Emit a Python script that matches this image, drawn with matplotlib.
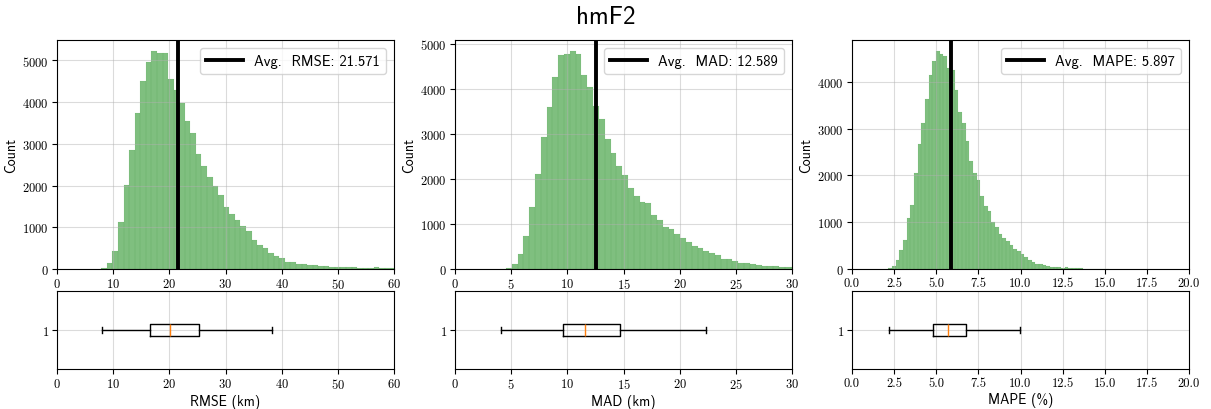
import matplotlib
matplotlib.use("Agg")
import matplotlib.pyplot as plt
import numpy as np

# ---------------- data ----------------
rmse_start, rmse_width = 7.9, 0.99
rmse_counts = [25, 140, 430, 1135, 2015, 2855, 3745, 4505, 4955, 5230, 5185, 5185,
               4560, 4295, 3985, 3550, 3260, 2755, 2480, 2210, 1990, 1780, 1495, 1330,
               1175, 1030, 915, 695, 570, 505, 390, 305, 275, 175, 170, 120, 120, 105,
               90, 70, 70, 55, 50, 45, 45, 40, 30, 25, 25, 45, 25, 20, 25]

mad_start, mad_width = 4.023, 0.517
mad_counts = [10, 15, 110, 333, 733, 1378, 2111, 2926, 3600, 4259, 4755, 4778, 4837,
              4778, 4311, 4044, 3622, 3318, 2889, 2570, 2289, 2089, 1800, 1630, 1489,
              1467, 1200, 1089, 933, 889, 778, 689, 600, 511, 467, 400, 356, 311, 222,
              222, 178, 133, 133, 111, 89, 67, 67, 67, 55, 44, 44]

mape_start, mape_width = 2.16, 0.218
mape_counts = [15, 64, 191, 400, 615, 1095, 1360, 2050, 2680, 3120, 3640, 4150, 4440,
               4660, 4590, 4550, 4300, 4250, 3820, 3360, 3120, 2730, 2310, 2045, 1908,
               1569, 1336, 1230, 996, 890, 742, 657, 594, 509, 420, 375, 315, 250, 200,
               155, 106, 100, 80, 60, 42, 42, 35, 28, 48, 21, 14, 14, 12, 8, 6, 5, 4,
               3, 3, 2]

averages = [21.571, 12.589, 5.897]
metric_names = ["RMSE", "MAD", "MAPE"]
xlabels = ["RMSE (km)", "MAD (km)", "MAPE (%)"]
xlims = [(0, 60), (0, 30), (0, 20)]
xtick_steps = [10, 5, 2.5]

# box stats: whislo, q1, med, q3, whishi
box_stats = [
    (8.1, 16.6, 20.2, 25.2, 38.2),
    (4.1, 9.6, 11.6, 14.65, 22.35),
    (2.2, 4.82, 5.69, 6.79, 9.95),
]

hist_data = [
    (rmse_start, rmse_width, rmse_counts),
    (mad_start, mad_width, mad_counts),
    (mape_start, mape_width, mape_counts),
]

# ---------------- style ----------------
plt.rcParams['font.family'] = 'cmr10'
plt.rcParams['axes.formatter.use_mathtext'] = True
plt.rcParams['mathtext.fontset'] = 'cm'
SANS = 'cmss10'

fig = plt.figure(figsize=(12.11, 4.10), dpi=100)

lefts = [57 / 1211, 455 / 1211, 852 / 1211]
w = 337 / 1211
top_bottom = 1 - 270 / 410
top_h = (270 - 41) / 410
box_bottom = 1 - 370 / 410
box_h = (370 - 292) / 410

green_face = (0.0, 0.5, 0.0, 0.5)
green_edge = (0.0, 0.5, 0.0, 0.9)

for i in range(3):
    start, width, counts = hist_data[i]
    counts = np.array(counts, dtype=float)
    edges = start + width * np.arange(len(counts))

    ax = fig.add_axes([lefts[i], top_bottom, w, top_h])
    ax.bar(edges, counts, width=width, align='edge', facecolor=green_face,
           edgecolor=green_edge, linewidth=0.04)
    ax.axvline(averages[i], color='black', lw=2.8,
               label=f"Avg.  {metric_names[i]}: {averages[i]:.3f}")
    ax.set_xlim(*xlims[i])
    ax.set_ylim(0, counts.max() * 1.05)
    ticks = np.arange(xlims[i][0], xlims[i][1] + 1e-9, xtick_steps[i])
    ax.set_xticks(ticks)
    if i == 2:
        ax.set_xticklabels([f"{t:.1f}" for t in ticks])
    ax.grid(True, alpha=0.45)
    ax.set_ylabel("Count", family=SANS, fontsize=10, labelpad=3)
    ax.tick_params(labelsize=9, pad=2.5)
    ax.legend(loc='upper right', prop={'family': SANS, 'size': 10.5},
              handlelength=2.5, borderaxespad=0.55, borderpad=0.4)

    bx = fig.add_axes([lefts[i], box_bottom, w, box_h])
    lo, q1, med, q3, hi = box_stats[i]
    stats = [dict(whislo=lo, q1=q1, med=med, q3=q3, whishi=hi, fliers=[], label="1")]
    bx.bxp(stats, orientation='horizontal', showfliers=False, widths=0.15,
           medianprops=dict(color='C1'))
    bx.set_ylim(0.5, 1.5)
    bx.set_xlim(*xlims[i])
    bx.set_xticks(ticks)
    if i == 2:
        bx.set_xticklabels([f"{t:.1f}" for t in ticks])
    bx.grid(True, alpha=0.45)
    bx.tick_params(labelsize=9, pad=2.5)
    bx.set_xlabel(xlabels[i], family=SANS, fontsize=10, labelpad=2)

fig.suptitle("hmF2", family=SANS, fontsize=18, y=0.985)
fig.savefig("out.png", dpi=100)
